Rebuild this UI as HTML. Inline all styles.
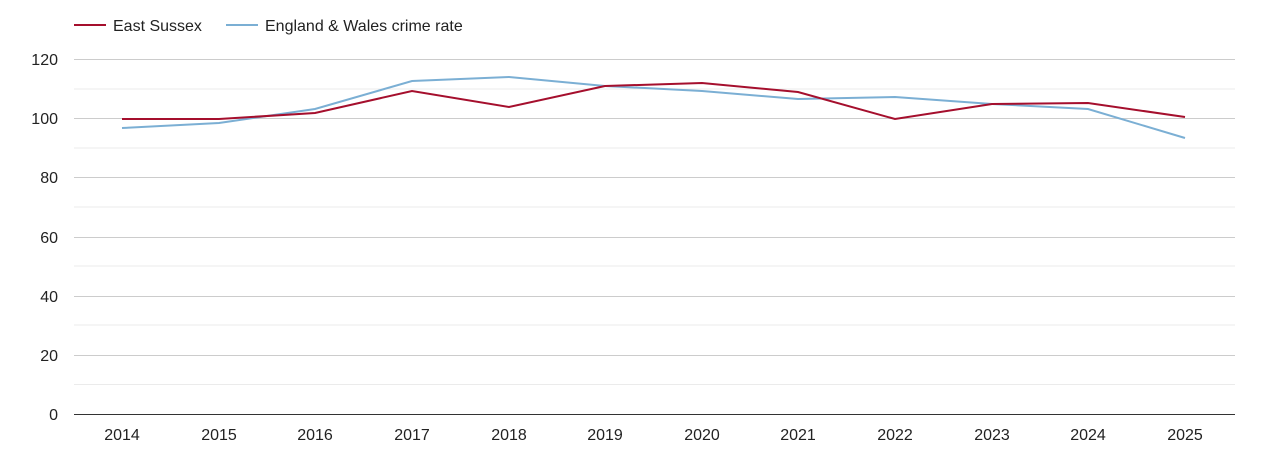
<!DOCTYPE html>
<html><head><meta charset="utf-8"><style>
body{margin:0;background:#fff;width:1270px;height:450px;overflow:hidden}
svg{font-family:"Liberation Sans",sans-serif}
</style></head><body>
<svg width="1270" height="450" xmlns="http://www.w3.org/2000/svg">
<g stroke="#ebebeb" stroke-width="1">
<line x1="74" x2="1235" y1="89" y2="89"/><line x1="74" x2="1235" y1="148" y2="148"/><line x1="74" x2="1235" y1="207" y2="207"/><line x1="74" x2="1235" y1="266" y2="266"/><line x1="74" x2="1235" y1="325" y2="325"/><line x1="74" x2="1235" y1="384.5" y2="384.5"/>
</g>
<g stroke="#cccccc" stroke-width="1">
<line x1="74" x2="1235" y1="59.5" y2="59.5"/><line x1="74" x2="1235" y1="118.5" y2="118.5"/><line x1="74" x2="1235" y1="177.5" y2="177.5"/><line x1="74" x2="1235" y1="237.5" y2="237.5"/><line x1="74" x2="1235" y1="296.5" y2="296.5"/><line x1="74" x2="1235" y1="355.5" y2="355.5"/>
</g>
<line x1="74" x2="1235" y1="414.5" y2="414.5" stroke="#333" stroke-width="1"/>
<g font-size="16" fill="#222" text-anchor="end">
<text x="58" y="65">120</text><text x="58" y="124">100</text><text x="58" y="183">80</text><text x="58" y="243">60</text><text x="58" y="302">40</text><text x="58" y="361">20</text><text x="58" y="420">0</text>
</g>
<g font-size="16" fill="#222" text-anchor="middle">
<text x="122" y="440">2014</text><text x="219" y="440">2015</text><text x="315" y="440">2016</text><text x="412" y="440">2017</text><text x="509" y="440">2018</text><text x="605" y="440">2019</text><text x="702" y="440">2020</text><text x="798" y="440">2021</text><text x="895" y="440">2022</text><text x="992" y="440">2023</text><text x="1088" y="440">2024</text><text x="1185" y="440">2025</text>
</g>
<polyline fill="none" stroke="#7bafd4" stroke-width="2" points="122,128 219,123 315,109 412,81 509,77 605,86 702,91 798,99 895,97 992,104 1088,109 1185,138"/>
<polyline fill="none" stroke="#a50f2d" stroke-width="2" points="122,119 219,119 315,113 412,91 509,107 605,86 702,83 798,92 895,119 992,104 1088,103 1185,117"/>
<line x1="74" x2="106" y1="25" y2="25" stroke="#a50f2d" stroke-width="2"/>
<text x="113" y="31" font-size="16" fill="#222">East Sussex</text>
<line x1="226" x2="258" y1="25" y2="25" stroke="#7bafd4" stroke-width="2"/>
<text x="265" y="31" font-size="16" fill="#222">England &amp; Wales crime rate</text>
</svg>
</body></html>
